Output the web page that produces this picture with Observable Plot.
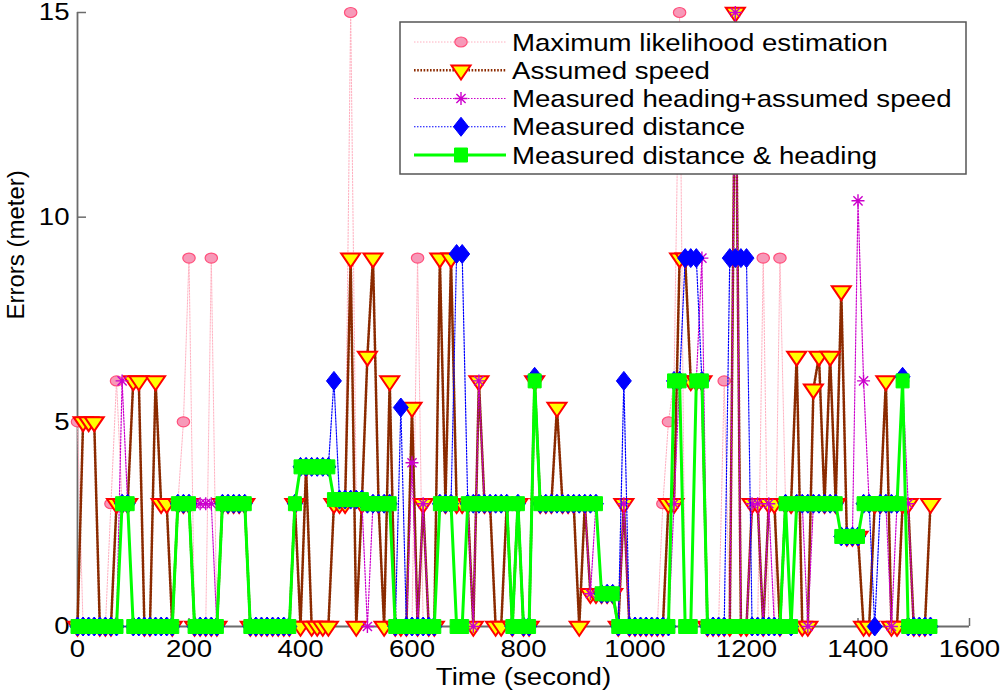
<!DOCTYPE html>
<html><head><meta charset="utf-8">
<script src="https://cdn.jsdelivr.net/npm/d3@7"></script>
<script src="https://cdn.jsdelivr.net/npm/@observablehq/plot@0.6"></script>
<style>
html,body{margin:0;padding:0;background:#fff;}
#chart{position:relative;width:1000px;height:692px;}
#legend{position:absolute;left:0;top:0;pointer-events:none;}
</style></head><body><div id="chart"></div>
<script>
const times = [0,10,20,30,40,50,60,70,80,90,100,110,120,130,140,150,160,170,180,190,
200,210,220,230,240,250,260,270,280,290,300,310,320,330,340,350,360,370,380,390,
400,410,420,430,440,450,460,470,480,490,500,510,520,530,540,550,560,570,580,590,
600,610,620,630,640,650,660,670,680,690,700,710,720,730,740,750,760,770,780,790,
800,810,820,830,840,850,860,870,880,890,900,910,920,930,940,950,960,970,980,990,
1000,1010,1020,1030,1040,1050,1060,1070,1080,1090,1100,1110,1120,1130,1140,1150,1160,1170,1180,1190,
1200,1210,1220,1230,1240,1250,1260,1270,1280,1290,1300,1310,1320,1330,1340,1350,1360,1370,1380,1390,
1400,1410,1420,1430,1440,1450,1460,1470,1480,1490,1500,1510,1520,1530];

const mleErr = [5,0,0,0,0,0,3,6,3,3, 0,0,0,0,0,0,0,0,3,5, 9,0,0,0,9,0,3,3,3,3, 3,0,0,0,0,0,0,0,0,3,
3.9,3.9,3.9,3.9,3.9,3.9,3.1,3.1,3.1,15, 3.1,3.1,3,3,3,3,3,0,0,0, 0,9,0,0,0,3,3,3,0,0, 3,3,3,3,3,3,3,3,0,3,
0,0,6,3,3,3,3,3,3,3, 3,3,3,3,0.8,0.8,0.8,0,0,0, 0,0,0,0,0,3,5,6,15,0, 0,6,6,0,0,0,6,0,0,0,
0,0,0,9,0,0,9,3,0,3, 3,3,3,3,3,3,3,2.2,2.2,2.2, 2.2,3,3,3,3,3,3,3,6,0, 0,0,0,0];

const speedErr = [0,5,5,5,0,0,0,3,3,3, 6,6,0,0,6,3,3,0,3,3, 3,0,0,0,0,0,3,3,3,3, 3,0,0,0,0,0,0,0,0,3,
0,3.9,0,0,0,0,3,3,3,9, 0,3,6.6,9,3,0,6,0,0,0, 5.35,0,3,0,0,9,3,9,3,3, 3,0,6,3,3,0,0,3,0,3,
0,0,6,3,3,3,5.35,3,3,3, 0,3,0.8,0.8,0.8,0.8,0.8,0,3,0, 0,0,0,0,0,0,3,3,9,9, 6,6,6,0,0,0,0,0,15,0,
0,3,3,0,3,3,0,3,3,6.6, 0,0,5.8,6.6,3,6.6,3,8.2,2.2,2.2, 2.2,0,0,3,3,6,0,0,3,3, 0,0,0,3];

const headingErr = [0,0,0,0,0,0,0,0,6,3, 0,0,0,0,0,0,0,0,3,3, 3,3,3,3,3,0,3,3,3,3, 3,0,0,0,0,0,0,0,0,3,
3.9,3.9,3.9,3.9,3.9,3.9,3.1,3.1,3.1,3.1, 3.1,3.1,0,3,3,3,3,0,0,0, 4,0,3,0,0,3,3,3,0,0, 3,0,6,3,3,3,3,3,0,3,
0,0,6,3,3,3,3,3,3,3, 3,3,0.8,3,0.8,0.8,0.8,0,3,0, 0,0,0,0,0,0,0,3,6,0, 0,6,9,0,0,0,0,0,15,0,
0,3,3,0,3,0,0,3,0,3, 3,0,3,3,3,3,3,2.2,2.2,2.2, 10.4,6,3,3,3,3,0,3,6,3, 0,0,0,0];

const distErr = [0,0,0,0,0,0,0,0,3,3, 0,0,0,0,0,0,0,0,3,3, 3,0,0,0,0,0,3,3,3,3, 3,0,0,0,0,0,0,0,0,3,
3.9,3.9,3.9,3.9,3.9,3.9,6,3.1,3.1,3.1, 3.1,3.1,3,3,3,3,3,0,5.35,0, 0,0,0,0,0,3,3,3,9.1,9.1, 3,3,3,3,3,3,3,3,0,3,
0,0,6.1,3,3,3,3,3,3,3, 3,3,3,3,0.8,0.8,0.8,0,6,0, 0,0,0,0,0,0,0,6,6,9, 9,9,6,0,0,0,0,9,9,9,
9,0,0,0,0,0,0,3,0,3, 3,3,3,3,3,3,3,2.2,2.2,2.2, 2.2,3,3,0,3,3,3,3,6.1,0, 0,0,0,0];

const distHeadErr = [0,0,0,0,0,0,0,0,3,3, 0,0,0,0,0,0,0,0,3,3, 3,0,0,0,0,0,3,3,3,3, 3,0,0,0,0,0,0,0,0,3,
3.9,3.9,3.9,3.9,3.9,3.9,3.1,3.1,3.1,3.1, 3.1,3.1,3,3,3,3,3,0,0,0, 0,0,0,0,0,3,3,3,0,0, 3,3,3,3,3,3,3,3,0,3,
0,0,6,3,3,3,3,3,3,3, 3,3,3,3,0.8,0.8,0.8,0,0,0, 0,0,0,0,0,0,0,6,6,0, 0,6,6,0,0,0,0,0,0,0,
0,0,0,0,0,0,0,3,0,3, 3,3,3,3,3,3,3,2.2,2.2,2.2, 2.2,3,3,3,3,3,3,3,6,0, 0,0,0,0];

const seriesNames = ["Maximum likelihood estimation", "Assumed speed", "Measured heading+assumed speed", "Measured distance", "Measured distance & heading"];
const xTicks = [0, 200, 400, 600, 800, 1000, 1200, 1400, 1600];
const yTicks = [0, 5, 10, 15];
const xLabel = "Time (second)";
const yLabel = "Errors (meter)";

// marker shapes
const ellipseSym = {draw(ctx) {
  const rx = 6.2, ry = 5, k = 0.5523;
  ctx.moveTo(rx, 0);
  ctx.bezierCurveTo(rx, ry*k, rx*k, ry, 0, ry);
  ctx.bezierCurveTo(-rx*k, ry, -rx, ry*k, -rx, 0);
  ctx.bezierCurveTo(-rx, -ry*k, -rx*k, -ry, 0, -ry);
  ctx.bezierCurveTo(rx*k, -ry, rx, -ry*k, rx, 0);
  ctx.closePath();
}};
const triDownSym = {draw(ctx) { ctx.moveTo(-9.5, -4.7); ctx.lineTo(9.5, -4.7); ctx.lineTo(0, 9.3); ctx.closePath(); }};
const starSym = {draw(ctx) {
  for (let k = 0; k < 4; k++) { const a = k * Math.PI / 4, dx = 6.5 * Math.cos(a), dy = 6.5 * Math.sin(a); ctx.moveTo(-dx, -dy); ctx.lineTo(dx, dy); }
}};
const diamondSym = {draw(ctx) { ctx.moveTo(0, -9.5); ctx.lineTo(7.5, 0); ctx.lineTo(0, 9.5); ctx.lineTo(-7.5, 0); ctx.closePath(); }};
const squareSym = {draw(ctx) { ctx.rect(-6.5, -7, 13, 14); }};

const specs = [
  {name: seriesNames[0], values: mleErr, line: {stroke: "#ffb0c0", strokeWidth: 1, strokeDasharray: "1.5,1.5"}, symbol: ellipseSym, fill: "#f799b8", stroke: "#ff4f7b", sw: 1.2},
  {name: seriesNames[1], values: speedErr, line: {stroke: "#8b2a00", strokeWidth: 2.6, strokeDasharray: "1.6,1.6"}, symbol: triDownSym, fill: "#ffff00", stroke: "#ff0000", sw: 2},
  {name: seriesNames[2], values: headingErr, line: {stroke: "#cc00cc", strokeWidth: 1.2, strokeDasharray: "1.5,1.5"}, symbol: starSym, fill: "none", stroke: "#cc00cc", sw: 1.4},
  {name: seriesNames[3], values: distErr, line: {stroke: "#0000ff", strokeWidth: 1.2, strokeDasharray: "1.5,1.5"}, symbol: diamondSym, fill: "#0000ff", stroke: "#0000ff", sw: 1},
  {name: seriesNames[4], values: distHeadErr, line: {stroke: "#00ff00", strokeWidth: 3}, symbol: squareSym, fill: "#00ff00", stroke: "#00ff00", sw: 1}
];

const seriesMarks = specs.flatMap(s => {
  const rows = times.map((t, i) => ({t, v: s.values[i]}));
  return [
    Plot.line(rows, {x: "t", y: "v", ...s.line}),
    Plot.dot(rows, {x: "t", y: "v", symbol: s.symbol, fill: s.fill, stroke: s.stroke, strokeWidth: s.sw})
  ];
});

const xMax = xTicks[xTicks.length - 1], yMax = yTicks[yTicks.length - 1];

const chart = Plot.plot({
  width: 1000, height: 692,
  marginLeft: 77, marginRight: 31, marginTop: 12, marginBottom: 66,
  x: {domain: [xTicks[0], xMax]},
  y: {domain: [yTicks[0], yMax]},
  style: {fontFamily: "'Liberation Sans', Arial, sans-serif", fontSize: "24px", background: "#fff", color: "#000", overflow: "visible"},
  marks: [
    Plot.ruleY([yTicks[0]], {x1: xTicks[0], x2: xMax, stroke: "#6b6b6b", strokeWidth: 1.8}),
    Plot.ruleX([xTicks[0]], {y1: yTicks[0], y2: yMax, stroke: "#6b6b6b", strokeWidth: 1.8}),
    Plot.axisX(xTicks, {tickSize: -8, tickPadding: 21, tickFormat: "d", stroke: "#6b6b6b", fill: "#000", label: null, strokeWidth: 1.5}),
    Plot.axisY(yTicks, {tickSize: -9, tickPadding: 17, tickFormat: "d", stroke: "#6b6b6b", fill: "#000", label: null, strokeWidth: 1.5}),
    ...seriesMarks,
    Plot.text([xLabel], {frameAnchor: "bottom", dy: 51, lineAnchor: "middle", fill: "#000"}),
    Plot.text([yLabel], {frameAnchor: "left", dx: -61, rotate: -90, lineAnchor: "middle", fill: "#000"})
  ]
});

// horizontally widen the upright texts (reference glyphs are stretched)
for (const el of chart.querySelectorAll("text")) {
  const tr = el.getAttribute("transform");
  if (!tr || tr.includes("rotate")) continue;
  el.setAttribute("transform", tr + " scale(1.15,1)");
}

const host = document.getElementById("chart");
host.appendChild(chart);

// legend box
const leg = d3.select(host).append("svg").attr("id", "legend").attr("width", 1000).attr("height", 692);
leg.append("rect").attr("x", 400).attr("y", 22).attr("width", 566).attr("height", 152)
  .attr("fill", "#fff").attr("stroke", "#555").attr("stroke-width", 1.5);
specs.forEach((s, k) => {
  const y = 42 + k * 28.25;
  leg.append("line").attr("x1", 414).attr("x2", 506).attr("y1", y).attr("y2", y)
    .attr("stroke", s.line.stroke).attr("stroke-width", s.line.strokeWidth)
    .attr("stroke-dasharray", s.line.strokeDasharray || null);
  leg.append("path").attr("d", d3.symbol(s.symbol)()).attr("transform", `translate(461,${y})`)
    .attr("fill", s.fill).attr("stroke", s.stroke).attr("stroke-width", s.sw);
  leg.append("text").attr("transform", `translate(512,${y}) scale(1.15,1)`).attr("dy", "0.36em")
    .attr("font-family", "'Liberation Sans', Arial, sans-serif").attr("font-size", 24).attr("fill", "#000")
    .text(s.name);
});
</script></body></html>
